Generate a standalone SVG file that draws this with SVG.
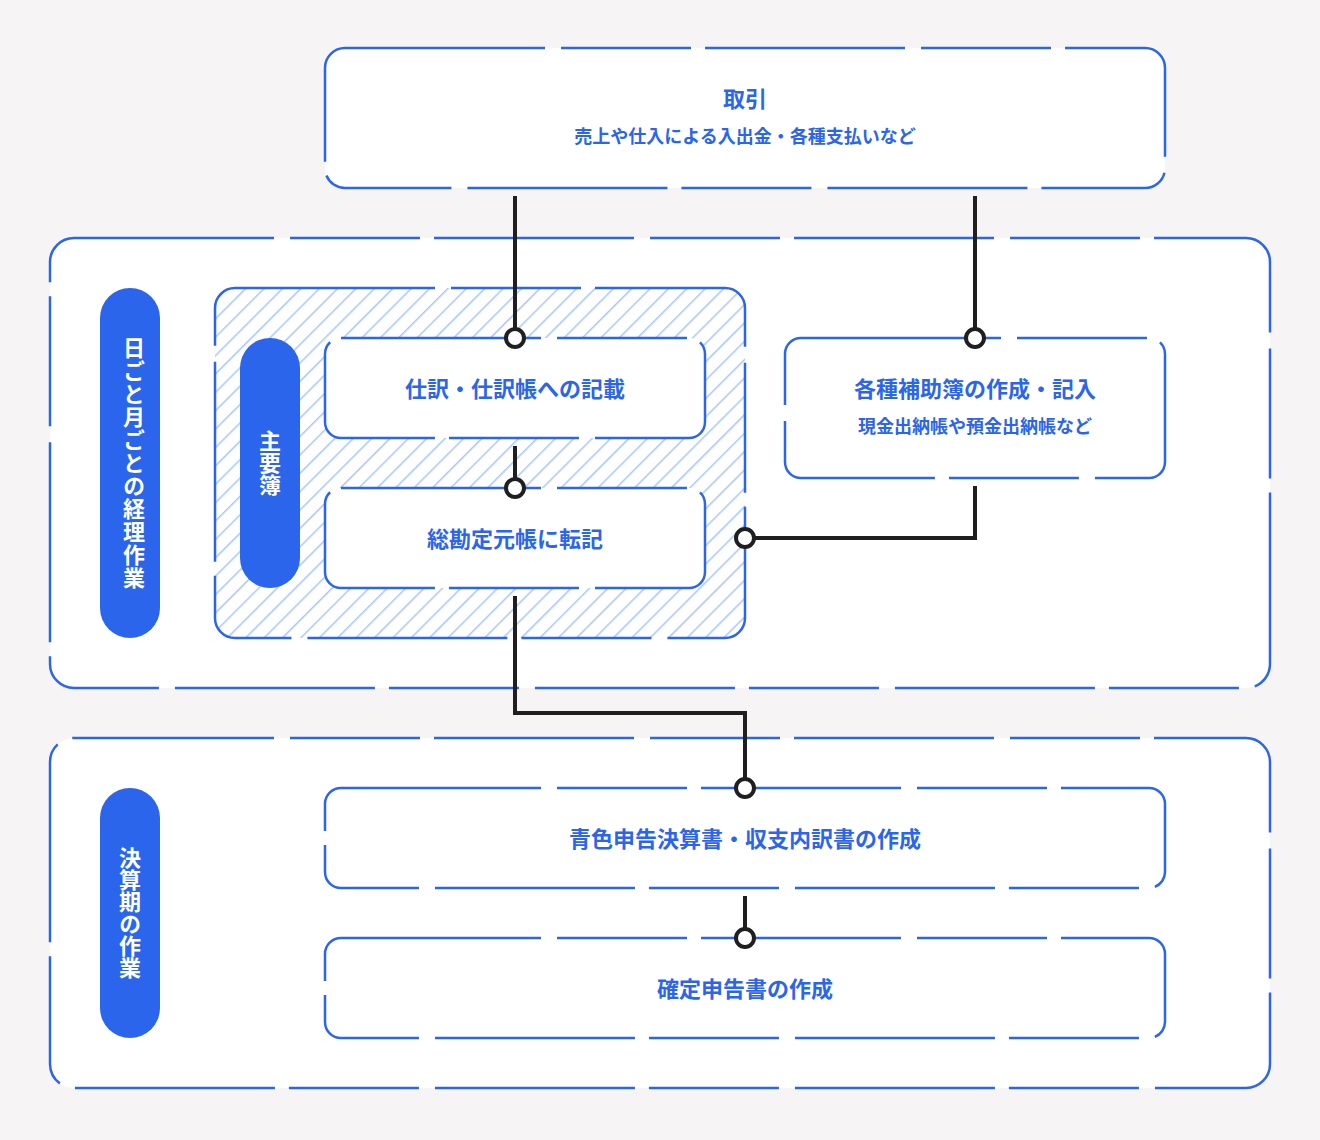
<svg xmlns="http://www.w3.org/2000/svg" width="1320" height="1140" viewBox="0 0 1320 1140">
<defs>
<pattern id="hatch" patternUnits="userSpaceOnUse" width="13" height="13" patternTransform="rotate(45)">
<rect width="13" height="13" fill="#ffffff"/>
<line x1="0" y1="0" x2="0" y2="13" stroke="#a8c6fb" stroke-width="3"/>
</pattern>
</defs>
<style>
.box{fill:#fff;stroke:#2b65ec;stroke-width:2.5;stroke-dasharray:200 16 130 14}
.pill{fill:#2b65ec}
.t{font-family:"Noto Sans CJK JP",sans-serif;font-weight:700;fill:#2b65ec;text-anchor:middle}
.vt{font-family:"Noto Sans CJK JP",sans-serif;font-weight:700;fill:#fff;font-size:22px;writing-mode:vertical-rl;text-anchor:middle}
.c{fill:none;stroke:#1f1f1f;stroke-width:4}
.dot{fill:#fff;stroke:#1f1f1f;stroke-width:4}
</style>
<rect width="1320" height="1140" fill="#f6f4f4"/>
<g id="sec1"><rect class="box" x="50" y="238" width="1220" height="450" rx="24"/></g>
<g id="sec2"><rect class="box" x="50" y="738" width="1220" height="350" rx="24"/></g>
<g id="main"><rect x="215" y="288" width="530" height="350" rx="20" fill="url(#hatch)" stroke="#2b65ec" stroke-width="2.5" stroke-dasharray="200 16 130 14"/></g>
<g id="pill1"><rect class="pill" x="100" y="288" width="60" height="350" rx="30"/><text class="vt" x="130" y="463" dominant-baseline="middle" style="letter-spacing:1px">日ごと月ごとの経理作業</text></g>
<g id="pill2"><rect class="pill" x="240" y="338" width="60" height="250" rx="30"/><text class="vt" x="270" y="463">主要簿</text></g>
<g id="pill3"><rect class="pill" x="100" y="788" width="60" height="250" rx="30"/><text class="vt" x="130" y="913">決算期の作業</text></g>
<g id="top"><rect class="box" x="325" y="48" width="840" height="140" rx="20"/>
<text class="t" x="745" y="107" font-size="22">取引</text>
<text class="t" x="745" y="143" font-size="18">売上や仕入による入出金・各種支払いなど</text></g>
<g id="shiwake"><rect class="box" x="325" y="338" width="380" height="100" rx="16"/>
<text class="t" x="515" y="397" font-size="22">仕訳・仕訳帳への記載</text></g>
<g id="soukanjo"><rect class="box" x="325" y="488" width="380" height="100" rx="16"/>
<text class="t" x="515" y="547" font-size="22">総勘定元帳に転記</text></g>
<g id="hojo"><rect class="box" x="785" y="338" width="380" height="140" rx="16"/>
<text class="t" x="975" y="397" font-size="22">各種補助簿の作成・記入</text>
<text class="t" x="975" y="433" font-size="18">現金出納帳や預金出納帳など</text></g>
<g id="aoiro"><rect class="box" x="325" y="788" width="840" height="100" rx="16"/>
<text class="t" x="745" y="847" font-size="22">青色申告決算書・収支内訳書の作成</text></g>
<g id="kakutei"><rect class="box" x="325" y="938" width="840" height="100" rx="16"/>
<text class="t" x="745" y="997" font-size="22">確定申告書の作成</text></g>
<g id="connectors">
<path class="c" d="M515 196V330"/><circle class="dot" cx="515" cy="338" r="9"/>
<path class="c" d="M975 196V330"/><circle class="dot" cx="975" cy="338" r="9"/>
<path class="c" d="M515 446V480"/><circle class="dot" cx="515" cy="488" r="9"/>
<path class="c" d="M975 486V538H754"/><circle class="dot" cx="745" cy="538" r="9"/>
<path class="c" d="M515 596V713H745V780"/><circle class="dot" cx="745" cy="788" r="9"/>
<path class="c" d="M745 896V930"/><circle class="dot" cx="745" cy="938" r="9"/>
</g>
</svg>
